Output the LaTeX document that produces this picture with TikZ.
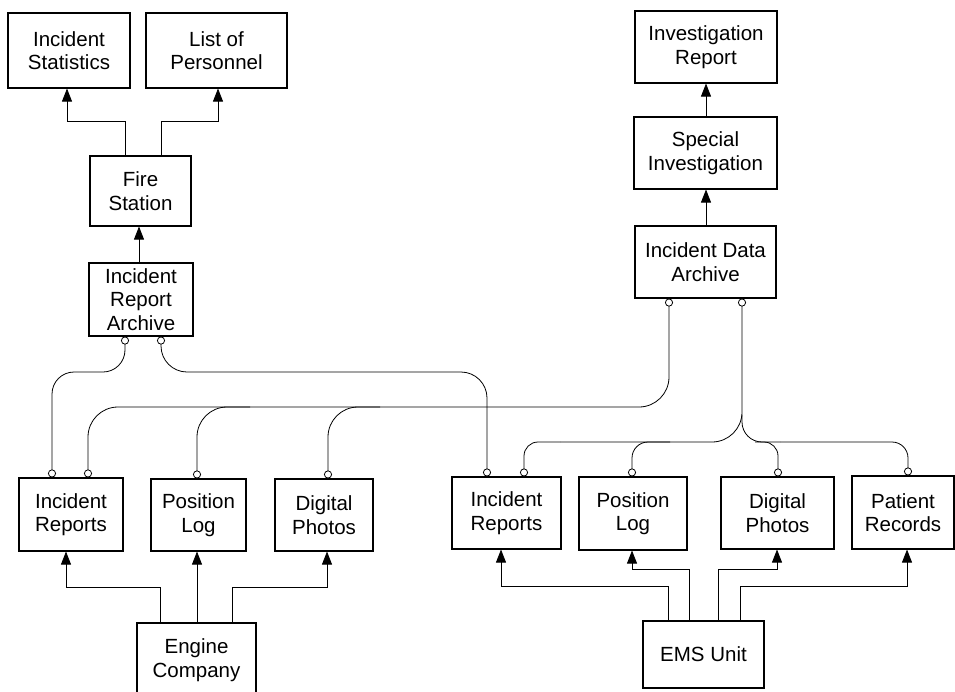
\documentclass[tikz,border=0pt]{standalone}
\usepackage{fontspec}
\setmainfont{Liberation Sans}
\usetikzlibrary{arrows.meta,calc}
\begin{document}
\begin{tikzpicture}[x=1pt,y=-1pt,
  box/.style={draw, line width=1.1pt, inner sep=0pt, align=center,
    font=\fontsize{20.5}{23.5}\selectfont},
  arr/.style={draw, line width=0.8pt, -{Triangle[length=13pt,width=10pt]}},
  lnk/.style={draw, line width=0.8pt, rounded corners=26pt},
  oc/.tip={Circle[open,length=8pt,width=8pt,fill=white,line width=0.8pt]}]
\useasboundingbox (0,0) rectangle (955,691);
\fill[white] (0,0) rectangle (955,691);
% nodes
\node[box, minimum width=122pt, minimum height=75pt] (istat) at (69,50.5) {Incident\\Statistics};
\node[box, minimum width=141pt, minimum height=75pt] (lop) at (216.5,50.5) {List of\\Personnel};
\node[box, minimum width=101pt, minimum height=70pt] (fs) at (140.5,191) {Fire\\Station};
\node[box, minimum width=104pt, minimum height=73pt] (ira) at (141,299.5) {Incident\\Report\\Archive};
\node[box, minimum width=142pt, minimum height=72pt] (ir) at (706,47) {Investigation\\Report};
\node[box, minimum width=143pt, minimum height=72pt] (si) at (705.5,153) {Special\\Investigation};
\node[box, minimum width=141pt, minimum height=72pt] (ida) at (705.5,262) {Incident Data\\Archive};
\node[box, minimum width=104pt, minimum height=73pt] (fir) at (71,514.5) {Incident\\Reports};
\node[box, minimum width=95pt, minimum height=72pt] (fpl) at (198.5,515) {Position\\Log};
\node[box, minimum width=98pt, minimum height=72pt] (fdp) at (324,515) {Digital\\Photos};
\node[box, minimum width=119pt, minimum height=74pt] (ec) at (196.5,660) {Engine\\Company};
\node[box, minimum width=109pt, minimum height=72pt] (eir) at (506.5,513) {Incident\\Reports};
\node[box, minimum width=108pt, minimum height=73pt] (epl) at (633,513.5) {Position\\Log};
\node[box, minimum width=113pt, minimum height=72pt] (edp) at (777.5,513) {Digital\\Photos};
\node[box, minimum width=102pt, minimum height=73pt] (epr) at (903,512.5) {Patient\\Records};
\node[box, minimum width=121pt, minimum height=67pt] (ems) at (703.5,654.5) {EMS Unit};
% upward arrows
\draw[arr] (125,0 |- fs.north) -- (125,121) -| (67,0 |- istat.south);
\draw[arr] (161,0 |- fs.north) -- (161,121) -| (218,0 |- lop.south);
\draw[arr] (139,0 |- ira.north) -- (139,0 |- fs.south);
\draw[arr] (706,0 |- ida.north) -- (706,0 |- si.south);
\draw[arr] (706,0 |- si.north) -- (706,0 |- ir.south);
\draw[arr] (160,0 |- ec.north) -- (160,587) -| (66,0 |- fir.south);
\draw[arr] (197,0 |- ec.north) -- (197,0 |- fpl.south);
\draw[arr] (232,0 |- ec.north) -- (232,587) -| (327,0 |- fdp.south);
\draw[arr] (668,0 |- ems.north) -- (668,586) -| (501,0 |- eir.south);
\draw[arr] (689,0 |- ems.north) -- (689,569) -| (632,0 |- epl.south);
\draw[arr] (718,0 |- ems.north) -- (718,569) -| (777,0 |- edp.south);
\draw[arr] (740,0 |- ems.north) -- (740,586) -| (907,0 |- epr.south);
% circle-ended links
\draw[lnk, rounded corners=22pt, oc-oc] (125,0 |- ira.south) -- (125,372) -- (52,372) -- (52,0 |- fir.north);
\draw[lnk, rounded corners=26pt, oc-oc] (161,0 |- ira.south) -- (161,372) -- (487,372) -- (487,0 |- eir.north);
\draw[lnk, rounded corners=30pt, oc-oc] (669,0 |- ida.south) -- (669,407) -- (88,407) -- (88,0 |- fir.north);
\coordinate (j1) at (250,407);
\coordinate (j2) at (380,407);
\draw[lnk, rounded corners=30pt, -oc] (j1) -- (197,407) -- (197,0 |- fpl.north);
\draw[lnk, rounded corners=30pt, -oc] (j2) -- (328,407) -- (328,0 |- fdp.north);
\coordinate (j3) at (742,415);
\coordinate (j4) at (560,442);
\coordinate (j5) at (670,442);
\coordinate (j6) at (780,442);
\draw[lnk, rounded corners=30pt, oc-] (742,0 |- ida.south) -- (742,442) -- (j4);
\draw[lnk, rounded corners=14pt, -oc] (j4) -- (524,442) -- (524,0 |- eir.north);
\draw[lnk, rounded corners=16pt, -oc] (j5) -- (632,442) -- (632,0 |- epl.north);
\draw[lnk, rounded corners=20pt] (j3) -- (742,442) -- (j6);
\draw[lnk, rounded corners=14pt, -oc] (755,442) -- (778,442) -- (778,0 |- edp.north);
\draw[lnk, rounded corners=16pt, -oc] (j6) -- (908,442) -- (908,0 |- epr.north);
\end{tikzpicture}
\end{document}
